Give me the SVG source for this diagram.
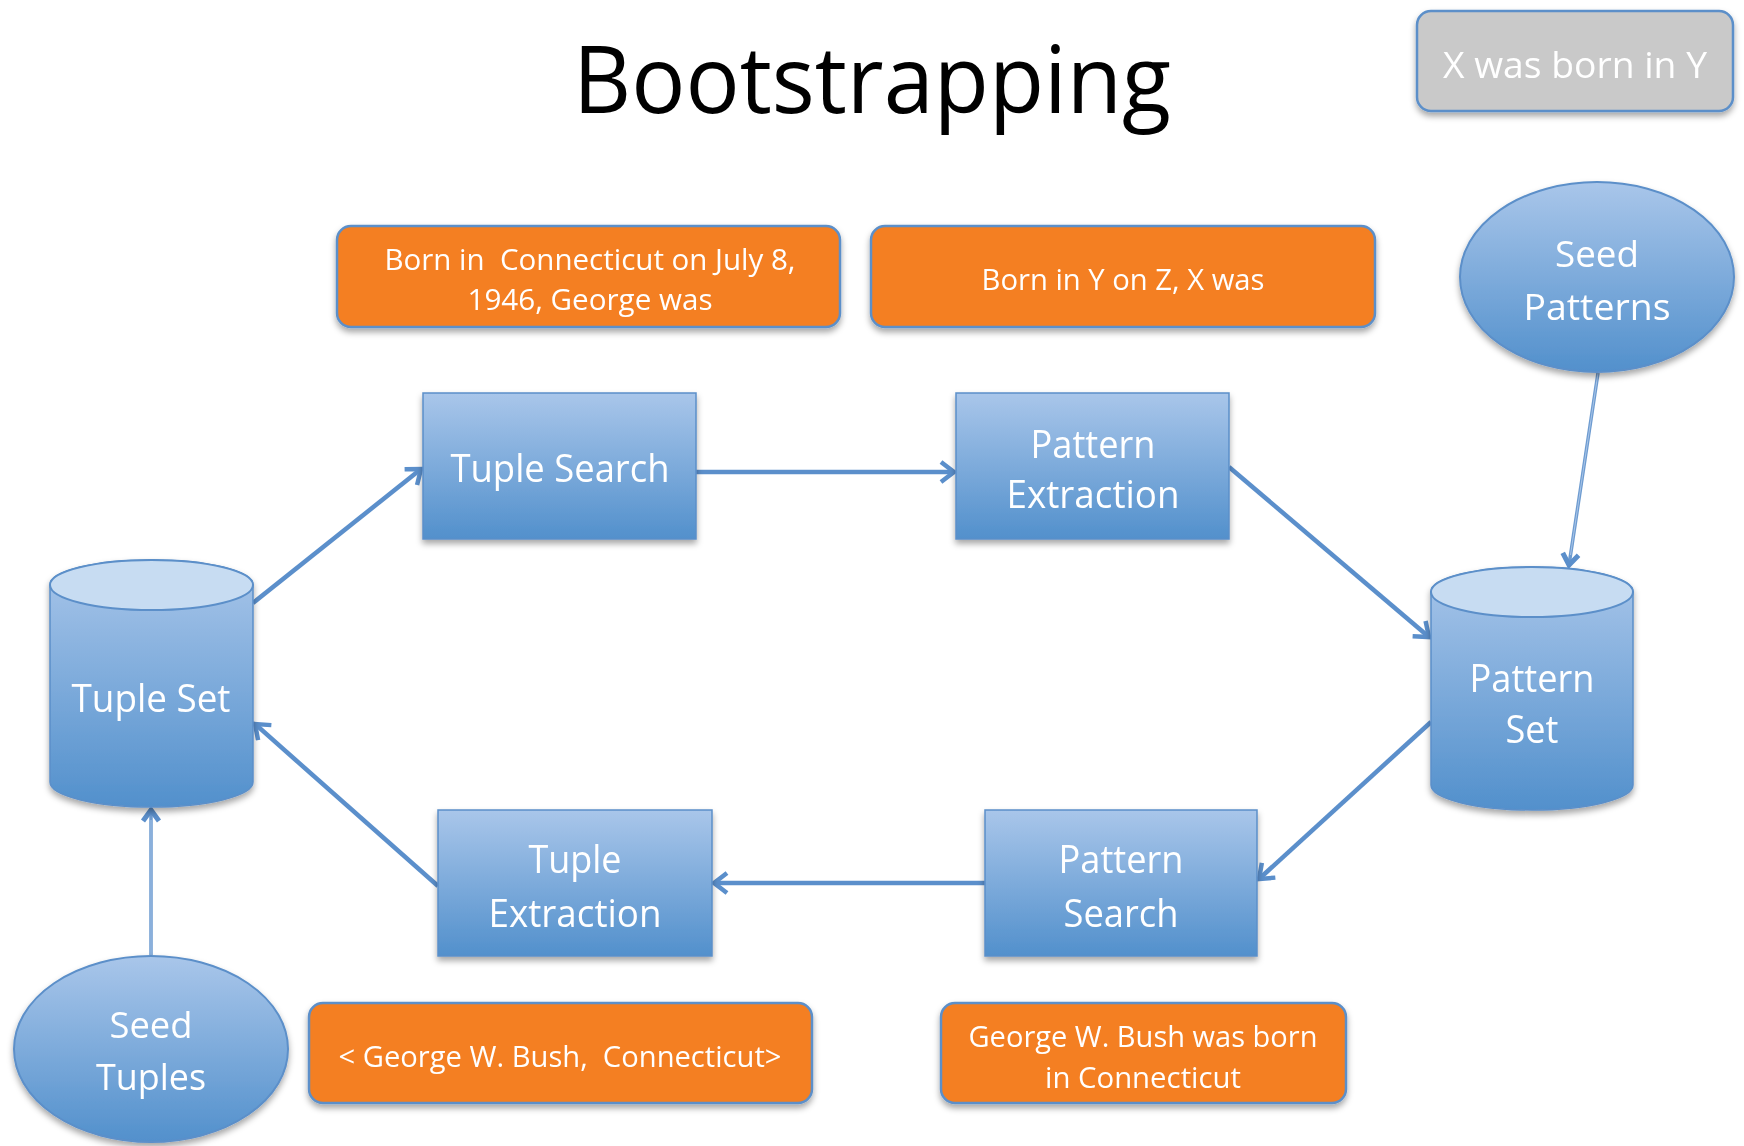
<svg xmlns="http://www.w3.org/2000/svg" width="1744" height="1146" viewBox="0 0 1744 1146">
<style>
.t{font-family:"Open Sans","Noto Sans","Liberation Sans",sans-serif;fill:#fff;text-anchor:middle;white-space:pre}
.box{fill:url(#gBlue);stroke:#5b8fc9;stroke-width:1.5}
.org{fill:#f47f22;stroke:#5b8fc9;stroke-width:2.5}
.conn{stroke:#5b8fcb;stroke-width:4.5;fill:none}
.thin{stroke:#6d9bd0;stroke-width:3.5;fill:none}
.thinc{stroke:#a9c5e8;stroke-width:1;fill:none}
</style>
<defs>
<linearGradient id="gBlue" x1="0" y1="0" x2="0" y2="1">
<stop offset="0" stop-color="#a9c6ea"/>
<stop offset="1" stop-color="#5290cc"/>
</linearGradient>
<filter id="sh" x="-10%" y="-10%" width="120%" height="130%">
<feDropShadow dx="0" dy="4" stdDeviation="3" flood-color="#000" flood-opacity="0.35"/>
</filter>
<marker id="arr" markerUnits="userSpaceOnUse" viewBox="-16 -12 20 24" markerWidth="20" markerHeight="24" refX="0" refY="0" orient="auto">
<path d="M-13,-10 L0,0 L-13,10" fill="none" stroke="#5b8fcb" stroke-width="4.5"/>
</marker>
<marker id="arrT" markerUnits="userSpaceOnUse" viewBox="-16 -12 20 24" markerWidth="20" markerHeight="24" refX="0" refY="0" orient="auto">
<path d="M-11,-8 L0,0 L-11,8" fill="none" stroke="#5b8fcb" stroke-width="5"/>
</marker>
</defs>
<rect width="1744" height="1146" fill="#fff"/>

<text class="t" x="872" y="113" font-size="94" style="fill:#000" textLength="598" lengthAdjust="spacingAndGlyphs">Bootstrapping</text>

<g id="connectors">
<line class="conn" x1="253" y1="603" x2="421" y2="469" marker-end="url(#arr)"/>
<line class="conn" x1="696" y1="472" x2="954" y2="472" marker-end="url(#arr)"/>
<line class="conn" x1="1229" y1="467" x2="1429" y2="637" marker-end="url(#arr)"/>
<line class="thin" x1="1598" y1="373" x2="1569" y2="565" marker-end="url(#arrT)"/>
<line class="thinc" x1="1598" y1="373" x2="1570.5" y2="555"/>
<line class="conn" x1="1431" y1="722" x2="1259" y2="879" marker-end="url(#arr)"/>
<line class="conn" x1="985" y1="883" x2="714" y2="883" marker-end="url(#arr)"/>
<line class="conn" x1="438" y1="886" x2="255" y2="724" marker-end="url(#arr)"/>
<line class="thin" x1="151" y1="955" x2="151" y2="810" marker-end="url(#arrT)"/>
<line class="thinc" x1="151" y1="955" x2="151" y2="820"/>
</g>

<g id="xwasborn" filter="url(#sh)">
<rect x="1417" y="11" width="316" height="100" rx="14" fill="#c9c9c9" stroke="#5b8fc9" stroke-width="2.5"/>
<text class="t" x="1575" y="78" font-size="36" textLength="264" lengthAdjust="spacingAndGlyphs">X was born in Y</text>
</g>

<g id="ex1" filter="url(#sh)">
<rect class="org" x="337" y="226" width="503" height="101" rx="14"/>
<text class="t" x="590" y="270" font-size="29" textLength="411" lengthAdjust="spacingAndGlyphs" xml:space="preserve">Born in  Connecticut on July 8,</text>
<text class="t" x="590" y="310" font-size="29" textLength="245" lengthAdjust="spacingAndGlyphs">1946, George was</text>
</g>

<g id="ex2" filter="url(#sh)">
<rect class="org" x="871" y="226" width="504" height="101" rx="14"/>
<text class="t" x="1123" y="290" font-size="29" textLength="283" lengthAdjust="spacingAndGlyphs">Born in Y on Z, X was</text>
</g>

<g id="seedPatterns" filter="url(#sh)">
<ellipse cx="1597" cy="277" rx="137" ry="95" fill="url(#gBlue)" stroke="#5b8fc9" stroke-width="2"/>
<text class="t" x="1597" y="267" font-size="37" textLength="84" lengthAdjust="spacingAndGlyphs">Seed</text>
<text class="t" x="1597" y="320" font-size="37" textLength="147" lengthAdjust="spacingAndGlyphs">Patterns</text>
</g>

<g id="tupleSearch" filter="url(#sh)">
<rect class="box" x="423" y="393" width="273" height="146"/>
<text class="t" x="560" y="482" font-size="38" textLength="219" lengthAdjust="spacingAndGlyphs">Tuple Search</text>
</g>

<g id="patternExtraction" filter="url(#sh)">
<rect class="box" x="956" y="393" width="273" height="146"/>
<text class="t" x="1093" y="458" font-size="38" textLength="125" lengthAdjust="spacingAndGlyphs">Pattern</text>
<text class="t" x="1093" y="508" font-size="38" textLength="173" lengthAdjust="spacingAndGlyphs">Extraction</text>
</g>

<g id="tupleSet" filter="url(#sh)">
<path d="M50,585 A101.5,25 0 0 1 253,585 L253,782 A101.5,25 0 0 1 50,782 Z" fill="url(#gBlue)" stroke="#5b8fc9" stroke-width="1.5"/>
<ellipse cx="151.5" cy="585" rx="101.5" ry="25" fill="#c7dcf2" stroke="#5b8fc9" stroke-width="2"/>
<text class="t" x="151" y="712" font-size="38" textLength="159" lengthAdjust="spacingAndGlyphs">Tuple Set</text>
</g>

<g id="patternSet" filter="url(#sh)">
<path d="M1431,592 A101,25 0 0 1 1633,592 L1633,785 A101,25 0 0 1 1431,785 Z" fill="url(#gBlue)" stroke="#5b8fc9" stroke-width="1.5"/>
<ellipse cx="1532" cy="592" rx="101" ry="25" fill="#c7dcf2" stroke="#5b8fc9" stroke-width="2"/>
<text class="t" x="1532" y="692" font-size="38" textLength="125" lengthAdjust="spacingAndGlyphs">Pattern</text>
<text class="t" x="1532" y="743" font-size="38" textLength="53" lengthAdjust="spacingAndGlyphs">Set</text>
</g>

<g id="tupleExtraction" filter="url(#sh)">
<rect class="box" x="438" y="810" width="274" height="146"/>
<text class="t" x="575" y="873" font-size="38" textLength="93" lengthAdjust="spacingAndGlyphs">Tuple</text>
<text class="t" x="575" y="927" font-size="38" textLength="173" lengthAdjust="spacingAndGlyphs">Extraction</text>
</g>

<g id="patternSearch" filter="url(#sh)">
<rect class="box" x="985" y="810" width="272" height="146"/>
<text class="t" x="1121" y="873" font-size="38" textLength="125" lengthAdjust="spacingAndGlyphs">Pattern</text>
<text class="t" x="1121" y="927" font-size="38" textLength="115" lengthAdjust="spacingAndGlyphs">Search</text>
</g>

<g id="seedTuples" filter="url(#sh)">
<ellipse cx="151" cy="1049" rx="137" ry="93" fill="url(#gBlue)" stroke="#5b8fc9" stroke-width="2"/>
<text class="t" x="151" y="1038" font-size="37" textLength="83" lengthAdjust="spacingAndGlyphs">Seed</text>
<text class="t" x="151" y="1090" font-size="37" textLength="110" lengthAdjust="spacingAndGlyphs">Tuples</text>
</g>

<g id="ex3" filter="url(#sh)">
<rect class="org" x="309" y="1003" width="503" height="100" rx="14"/>
<text class="t" x="560" y="1067" font-size="29" textLength="443" lengthAdjust="spacingAndGlyphs" xml:space="preserve">&lt; George W. Bush,  Connecticut&gt;</text>
</g>

<g id="ex4" filter="url(#sh)">
<rect class="org" x="941" y="1003" width="405" height="100" rx="14"/>
<text class="t" x="1143" y="1047" font-size="29" textLength="349" lengthAdjust="spacingAndGlyphs">George W. Bush was born</text>
<text class="t" x="1143" y="1088" font-size="29" textLength="196" lengthAdjust="spacingAndGlyphs">in Connecticut</text>
</g>
</svg>
